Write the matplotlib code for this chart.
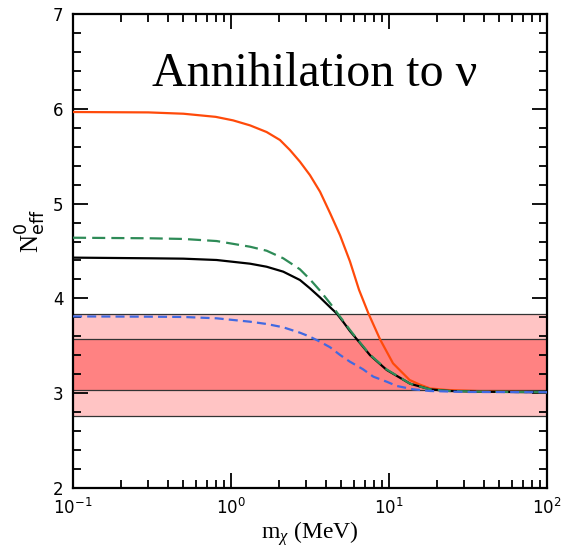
import matplotlib
matplotlib.use('Agg')
import matplotlib.pyplot as plt
from matplotlib.ticker import FixedLocator, LogLocator, MultipleLocator, NullFormatter

plt.rcParams['mathtext.fontset'] = 'custom'
plt.rcParams['mathtext.rm'] = 'Liberation Serif'
plt.rcParams['mathtext.it'] = 'Liberation Serif:italic'
plt.rcParams['mathtext.bf'] = 'Liberation Serif:bold'
plt.rcParams['mathtext.sf'] = 'DejaVu Sans'
plt.rcParams['font.family'] = ['DejaVu Sans']
plt.rcParams['lines.scale_dashes'] = False

# N_eff today versus dark matter mass, annihilation into neutrinos
mass_red = [0.1, 0.3, 0.5, 0.8, 1.03, 1.32, 1.68, 2.04, 2.36, 2.73, 3.16, 3.66, 4.24,
            4.90, 5.66, 6.46, 7.4, 8.77, 10.6, 13.5, 15.7, 18.2, 23.1, 40.0, 100.0]
neff_red = [5.966, 5.962, 5.948, 5.915, 5.878, 5.825, 5.755, 5.671, 5.565, 5.442, 5.30, 5.125,
            4.898, 4.665, 4.39, 4.09, 3.843, 3.569, 3.315, 3.139, 3.09, 3.05, 3.034, 3.02, 3.01]

mass_black = [0.1, 0.307, 0.499, 0.81, 1.32, 1.68, 2.14, 2.73, 3.16, 3.66, 4.24, 4.67,
              5.14, 5.66, 6.25, 7.59, 9.67, 13.6, 18.2, 24.2, 40.0, 100.0]
neff_black = [4.43, 4.423, 4.419, 4.405, 4.366, 4.334, 4.282, 4.194, 4.106, 4.01, 3.906, 3.84,
              3.75, 3.655, 3.57, 3.40, 3.245, 3.10, 3.04, 3.023, 3.015, 3.01]

mass_green = [0.1, 0.307, 0.499, 0.81, 1.32, 1.68, 2.14, 2.73, 3.16, 3.66, 4.24, 4.90,
              5.66, 6.25, 7.59, 9.67, 13.6, 18.2, 24.2, 40.0, 100.0]
neff_green = [4.64, 4.634, 4.627, 4.605, 4.545, 4.503, 4.423, 4.307, 4.201, 4.081, 3.948, 3.807,
              3.667, 3.575, 3.405, 3.25, 3.10, 3.04, 3.023, 3.015, 3.01]

mass_blue = [0.1, 0.307, 0.499, 0.81, 1.32, 1.68, 2.14, 2.73, 3.16, 3.66, 4.24, 4.90,
             5.66, 6.85, 7.96, 9.67, 11.2, 14.2, 18.2, 30.0, 100.0]
neff_blue = [3.81, 3.807, 3.804, 3.79, 3.754, 3.73, 3.695, 3.638, 3.596, 3.543, 3.484, 3.403,
             3.332, 3.252, 3.174, 3.121, 3.076, 3.041, 3.023, 3.013, 3.01]

# observational bands (1 and 2 sigma)
band_outer = [2.76, 3.84]
band_inner = [3.03, 3.57]

fig = plt.figure(figsize=(5.63, 5.47), dpi=100)
ax = fig.add_axes([0.1297, 0.1079, 0.8419, 0.8665])

ax.axhspan(band_outer[0], band_outer[1], color='#ffc4c4', lw=0, zorder=0)
ax.axhspan(band_inner[0], band_inner[1], color='#ff8282', lw=0, zorder=0)
for yb in band_outer + band_inner:
    ax.axhline(yb, color='#333333', lw=0.9, zorder=1)

ax.plot(mass_red, neff_red, color='#ff4a0a', lw=1.6, zorder=3)
ax.plot(mass_black, neff_black, color='black', lw=1.6, zorder=3)
ax.plot(mass_green, neff_green, color='#2e8b57', lw=1.6, dashes=(9.4, 4.4), zorder=3)
ax.plot(mass_blue, neff_blue, color='#4169e1', lw=1.6, dashes=(6.5, 3.7), zorder=3)

ax.set_xscale('log')
ax.set_xlim(0.1, 100)
ax.set_ylim(2, 7)

ax.xaxis.set_major_locator(FixedLocator([0.1, 1, 10, 100]))
ax.xaxis.set_minor_locator(LogLocator(base=10, subs=range(2, 10)))
ax.xaxis.set_minor_formatter(NullFormatter())
ax.set_xticks([0.1, 1, 10, 100])
ax.set_xticklabels([r'$\mathsf{10^{-1}}$', r'$\mathsf{10^{0}}$',
                    r'$\mathsf{10^{1}}$', r'$\mathsf{10^{2}}$'])
ax.yaxis.set_major_locator(MultipleLocator(1))
ax.yaxis.set_minor_locator(MultipleLocator(0.2))

ax.tick_params(which='both', direction='in', top=True, right=True,
               labelsize=12, width=1.3, pad=7)
ax.tick_params(which='major', length=11)
ax.tick_params(which='minor', length=5.5)
for sp in ax.spines.values():
    sp.set_linewidth(1.6)

ax.set_xlabel(r'm$_\chi$ (MeV)', family='Liberation Serif', fontsize=17)
ax.xaxis.set_label_coords(0.5, -0.065)
ax.set_ylabel(r'$\mathrm{N}^{\mathsf{0}}_{\mathsf{eff}}$', fontsize=18)
ax.yaxis.set_label_coords(-0.055, 0.542)

ax.text(0.167, 0.848, 'Annihilation to ν', transform=ax.transAxes,
        family='Liberation Serif', fontsize=34.5, va='baseline', ha='left')

fig.savefig('out.png', dpi=100)
